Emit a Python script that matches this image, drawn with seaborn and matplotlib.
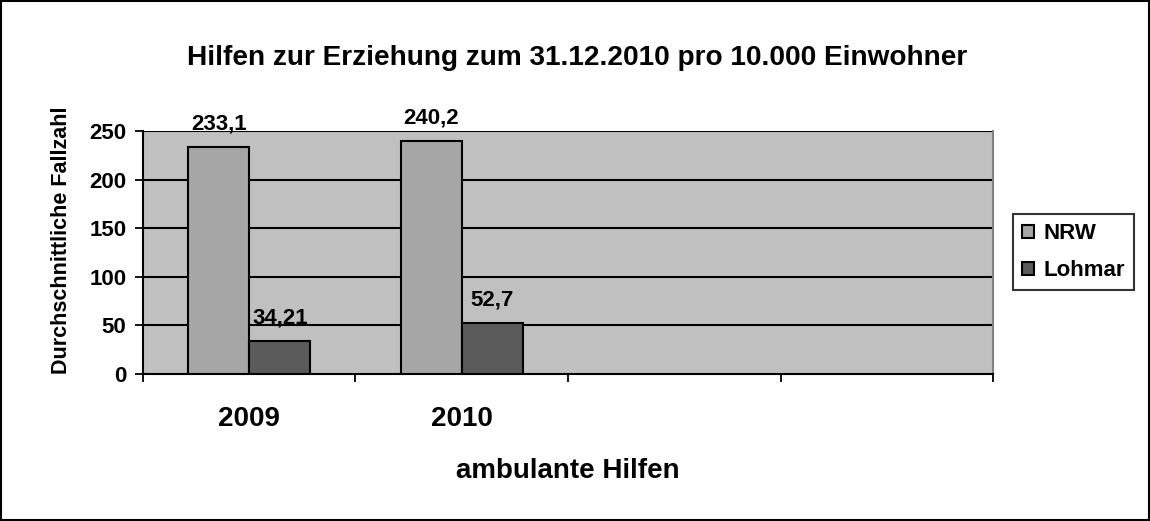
import pandas as pd
import seaborn as sns
import matplotlib.pyplot as plt
from matplotlib.patches import Rectangle

# Data
categories = ['2009', '2010', 'leer1', 'leer2']
tick_labels = ['2009', '2010', '', '']
series = ['NRW', 'Lohmar']
nrw_values = [233.1, 240.2]
lohmar_values = [34.21, 52.7]
value_labels = {'NRW': ['233,1', '240,2'], 'Lohmar': ['34,21', '52,7']}
colors = {'NRW': '#A6A6A6', 'Lohmar': '#5A5A5A'}

df = pd.DataFrame({
    'Jahr': categories[:2] * 2,
    'Gruppe': ['NRW'] * 2 + ['Lohmar'] * 2,
    'Fallzahl': nrw_values + lohmar_values,
})

sns.set_style('white')
plt.rcParams['font.family'] = ['Liberation Sans', 'DejaVu Sans']
plt.rcParams['text.color'] = 'black'
plt.rcParams['axes.labelcolor'] = 'black'
plt.rcParams['xtick.color'] = 'black'
plt.rcParams['ytick.color'] = 'black'

fig = plt.figure(figsize=(11.5, 5.21), dpi=100)
ax = fig.add_axes([0.1243, 0.2822, 0.7392, 0.4664])
ax.set_facecolor('#C0C0C0')

sns.barplot(data=df, x='Jahr', y='Fallzahl', hue='Gruppe', order=categories,
            hue_order=series, palette=colors, width=0.575, saturation=1,
            edgecolor='black', linewidth=1.5, ax=ax, zorder=3)

# data labels
for container, name in zip(ax.containers, series):
    ax.bar_label(container, labels=value_labels[name], padding=9,
                 fontsize=16, fontweight='bold')

ax.set_ylim(0, 250)
ax.set_xlim(-0.5, 3.5)
ax.set_yticks(range(0, 251, 50))
for y in range(50, 251, 50):
    ax.axhline(y, color='black', linewidth=1.5, zorder=1)

# category labels at centres, tick marks at the boundaries
ax.set_xticks(range(len(categories)))
ax.set_xticklabels(tick_labels, fontsize=20, fontweight='bold')
ax.tick_params(axis='x', which='major', length=0, pad=23)
ax.set_xticks([i - 0.5 for i in range(len(categories) + 1)], minor=True)
ax.tick_params(axis='x', which='minor', length=6, width=1.3, color='black',
               direction='out', bottom=True)
ax.tick_params(axis='y', length=6, width=1.3, color='black', direction='out',
               left=True, labelsize=16, pad=6)
for lbl in ax.get_yticklabels():
    lbl.set_fontweight('bold')

for side in ['left', 'bottom']:
    ax.spines[side].set_color('black')
    ax.spines[side].set_linewidth(1.5)
ax.spines['top'].set_visible(False)
ax.spines['right'].set_color('#808080')
ax.spines['right'].set_linewidth(1.5)

ax.set_xlabel('ambulante Hilfen', fontsize=20, fontweight='bold', labelpad=19)
ax.set_ylabel('Durchschnittliche Fallzahl', fontsize=15.5, fontweight='bold')
ax.yaxis.set_label_coords(-0.083, 0.551)
fig.text(0.502, 0.888, 'Hilfen zur Erziehung zum 31.12.2010 pro 10.000 Einwohner',
         ha='center', va='center', fontsize=20.2, fontweight='bold')

leg = ax.legend(loc='center left', bbox_to_anchor=(1.0235, 0.502), frameon=True,
                fancybox=False, edgecolor='black', handlelength=0.54,
                handleheight=0.54, handletextpad=0.45, borderpad=0.4,
                labelspacing=0.72, borderaxespad=0,
                prop={'weight': 'bold', 'size': 16})
leg.get_frame().set_linewidth(1.5)

fig.patches.append(Rectangle((0.001, 0.001), 0.998, 0.997, transform=fig.transFigure,
                             fill=False, edgecolor='black', linewidth=1.5))

plt.savefig('out.png', dpi=100)
plt.close()
